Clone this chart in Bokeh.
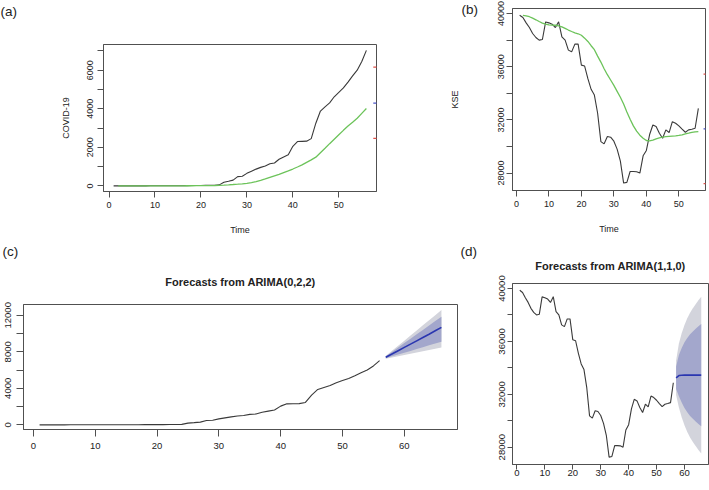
from bokeh.plotting import figure
from bokeh.layouts import row, column
from bokeh.models import Range1d, FixedTicker, Title
from bokeh.embed import file_html
from bokeh.resources import INLINE

# ---------------- data ----------------
days = list(range(1, 57))
covid = [2, 2, 2, 2, 2, 4, 4, 4, 5, 5, 5, 5, 6, 6, 6, 7, 16, 19, 20, 21, 28, 31, 34, 53,
         190, 240, 300, 480, 500, 650, 760, 870, 960, 1030, 1150, 1190, 1380, 1500, 1620, 2050,
         2300, 2310, 2320, 2450, 3250, 3880, 4100, 4300, 4620, 4850, 5080, 5380, 5700, 6000,
         6450, 7025]
fit_days = list(range(2, 57))
covid_fit = [2, 2, 2, 2, 2, 3, 3, 3, 4, 4, 4, 5, 5, 5, 6, 7, 9, 11, 13,
             15, 18, 22, 28, 40, 55, 72, 90, 110, 135, 170, 220, 285, 360, 440, 520, 600, 690,
             780, 875, 980, 1090, 1220, 1350, 1490, 1720, 1950, 2190, 2420, 2650, 2880, 3100,
             3300, 3510, 3760, 4010]
kse = [39870, 39700, 39300, 38950, 38500, 38200, 38000, 38050, 39370, 39300,
       39200, 38950, 39380, 38250, 38000, 37250, 37120, 37700, 37700, 36120,
       36050, 35100, 34300, 33870, 32500, 30370, 30200, 30750, 30700, 30400,
       29800, 28900, 27250, 27300, 28120, 28120, 28100, 28000, 29300, 29700,
       30900, 31620, 31500, 31000, 30620, 31250, 31050, 31870, 31750, 31550,
       31300, 31070, 31250, 31300, 31370, 32870]
kse_fit = [39870, 39830, 39760, 39650, 39530, 39400, 39280, 39200, 39150, 39130,
           39120, 39080, 39000, 38880, 38760, 38650, 38550, 38480, 38370, 38150,
           37900, 37580, 37280, 36800, 36350, 35850, 35400, 35000, 34600, 34150,
           33700, 33200, 32600, 32050, 31550, 31150, 30850, 30620, 30450, 30420,
           30480, 30580, 30650, 30700, 30740, 30760, 30780, 30800, 30830, 30880,
           30950, 31000, 31060, 31100, 31120]

fc_days = list(range(57, 67))
covid_fc = [7400, 7760, 8120, 8480, 8840, 9200, 9560, 9920, 10300, 10680]
covid_lo80 = [7300, 7500, 7700, 7900, 8100, 8310, 8510, 8710, 8910, 9110]
covid_hi80 = [7500, 7980, 8460, 8950, 9430, 9910, 10390, 10880, 11360, 11840]
covid_lo95 = [7250, 7380, 7520, 7650, 7790, 7920, 8050, 8190, 8330, 8460]
covid_hi95 = [7550, 8110, 8660, 9220, 9780, 10340, 10900, 11450, 12010, 12570]

kse_fc = [33250, 33420, 33440, 33450, 33450, 33450, 33450, 33450, 33450, 33450]
kse_lo80 = [32400, 31860, 31370, 30970, 30640, 30360, 30150, 29940, 29750, 29580]
kse_hi80 = [34100, 34980, 35510, 35930, 36260, 36540, 36750, 36960, 37150, 37320]
kse_lo95 = [31950, 31000, 30270, 29650, 29150, 28730, 28400, 28080, 27780, 27530]
kse_hi95 = [34550, 35840, 36610, 37250, 37750, 38170, 38500, 38820, 39120, 39370]

# stray legend marks seen at the right edge of panels (a) and (b)
marks_a = [6160, 4290, 2460]
marks_b = [35450, 31320, 27200]
marks_colors = ["#e0504a", "#4a55c8", "#e0504a"]

x_ticks_a = [0, 10, 20, 30, 40, 50]
x_ticks_c = [0, 10, 20, 30, 40, 50, 60]
y_major_a = [0, 2000, 4000, 6000]
y_minor_a = [1000, 3000, 5000, 7000]
y_major_kse = [28000, 32000, 36000, 40000]
y_minor_kse = [30000, 34000, 38000]
y_major_c = [0, 4000, 8000, 12000]
y_minor_c = [2000, 6000, 10000]

FONT = "Liberation Sans"
LINE = "#505050"
TEXT = "#222222"
BLACK = "#3a3a3a"
GREEN = "#6cc35a"
BLUE = "#2a36b0"
FILL80 = "#a3a7cc"
FILL95 = "#d3d4dc"


def base(width, height, xr, yr, left, right, top, bottom, xt, ymaj, ymin,
         tick_out=6, xstand=4, ystand=4, fsize="9px"):
    p = figure(width=width, height=height, x_range=Range1d(*xr), y_range=Range1d(*yr),
               output_backend="svg", toolbar_location=None, frame_align=False,
               min_border_left=left, min_border_right=right,
               min_border_top=top, min_border_bottom=bottom)
    p.grid.visible = False
    p.outline_line_color = LINE
    p.outline_line_width = 1
    p.outline_line_alpha = 1
    p.xaxis.ticker = FixedTicker(ticks=xt)
    p.yaxis.ticker = FixedTicker(ticks=ymaj, minor_ticks=ymin)
    for ax in (p.xaxis[0], p.yaxis[0]):
        ax.axis_line_color = LINE
        ax.major_tick_line_color = LINE
        ax.minor_tick_line_color = LINE
        ax.major_tick_in = 0
        ax.minor_tick_in = 0
        ax.major_tick_out = tick_out
        ax.minor_tick_out = tick_out
        ax.major_label_text_font = FONT
        ax.major_label_text_font_size = fsize
        ax.major_label_text_color = TEXT
        ax.axis_label_text_font = FONT
        ax.axis_label_text_font_style = "normal"
        ax.axis_label_text_font_size = "9px"
        ax.axis_label_text_color = TEXT
    p.xaxis.minor_tick_line_color = None
    p.xaxis.major_label_standoff = xstand
    p.yaxis.major_label_standoff = ystand
    p.yaxis.major_label_orientation = "vertical"
    return p


def tag(p, text, offset, standoff):
    # panel letter: the plot's own (outermost) title, shifted left of the frame
    p.title.text = text
    p.title.align = "left"
    p.title.offset = offset
    p.title.standoff = standoff
    p.title.text_font = FONT
    p.title.text_font_size = "13.5px"
    p.title.text_font_style = "normal"
    p.title.text_color = TEXT


def inner_title(p, text, standoff, valign="bottom", size="11px", style="bold"):
    p.add_layout(Title(text=text, align="center", standoff=standoff,
                       vertical_align=valign, text_font=FONT, text_font_size=size,
                       text_font_style=style, text_color=TEXT), "above")


# ---------------- (a) ----------------
pa = base(440, 240, (-1.2, 58.2), (-290, 7330), 103, 64, 44, 49,
          x_ticks_a, y_major_a, y_minor_a)
pa.line(days, covid, line_color=BLACK, line_width=1.1)
pa.line(fit_days, covid_fit, line_color=GREEN, line_width=1.3)
for v, c in zip(marks_a, marks_colors):
    pa.segment(x0=57.5, y0=v, x1=58.4, y1=v, line_color=c, line_width=1.2)
pa.xaxis.axis_label = "Time"
pa.yaxis.axis_label = "COVID-19"
pa.xaxis.axis_label_standoff = 14
pa.yaxis.axis_label_standoff = 14
inner_title(pa, " ", 13, size="13.5px", style="normal")   # blank spacer above the frame
tag(pa, "(a)", -103, -8)

# ---------------- (b) ----------------
pb = base(269, 240, (-1.2, 58.2), (26690, 40380), 72, 4, 8, 50,
          x_ticks_a, y_major_kse, y_minor_kse, ystand=2)
pb.line(days, kse, line_color=BLACK, line_width=1.1)
pb.line(fit_days, kse_fit, line_color=GREEN, line_width=1.3)
for v, c in zip(marks_b, marks_colors):
    pb.segment(x0=57.6, y0=v, x1=58.4, y1=v, line_color=c, line_width=1.2)
pb.xaxis.axis_label = "Time"
pb.yaxis.axis_label = "KSE"
pb.xaxis.axis_label_standoff = 14
pb.yaxis.axis_label_standoff = 36
tag(pb, "(b)", -51, -17)

# ---------------- (c) ----------------
pc = base(458, 250, (-1.6, 68.6), (-510, 13180), 23, 1, 64, 61,
          x_ticks_c, y_major_c, y_minor_c, tick_out=7, xstand=6, ystand=5,
          fsize="9.5px")
pc.varea(x=fc_days, y1=covid_lo95, y2=covid_hi95, fill_color=FILL95)
pc.varea(x=fc_days, y1=covid_lo80, y2=covid_hi80, fill_color=FILL80)
pc.line(days, covid, line_color=BLACK, line_width=1.1)
pc.line(fc_days, covid_fc, line_color=BLUE, line_width=1.6)
inner_title(pc, "Forecasts from ARIMA(0,2,2)", 34)
tag(pc, "(c)", -21, -5)

# ---------------- (d) ----------------
pd_ = base(251, 250, (-1.6, 68.6), (26690, 40380), 54, 1, 43, 26,
           x_ticks_c, y_major_kse, y_minor_kse, tick_out=5, xstand=0, ystand=2,
           fsize="9.5px")
pd_.varea(x=fc_days, y1=kse_lo95, y2=kse_hi95, fill_color=FILL95)
pd_.varea(x=fc_days, y1=kse_lo80, y2=kse_hi80, fill_color=FILL80)
pd_.line(days, kse, line_color=BLACK, line_width=1.1)
pd_.line(fc_days, kse_fc, line_color=BLUE, line_width=1.6)
inner_title(pd_, "Forecasts from ARIMA(1,1,0)", 20, valign="top")
tag(pd_, "(d)", -52, -18)

layout = column(row(pa, pb), row(pc, pd_))

open("out.html", "w").write(file_html(layout, INLINE))
